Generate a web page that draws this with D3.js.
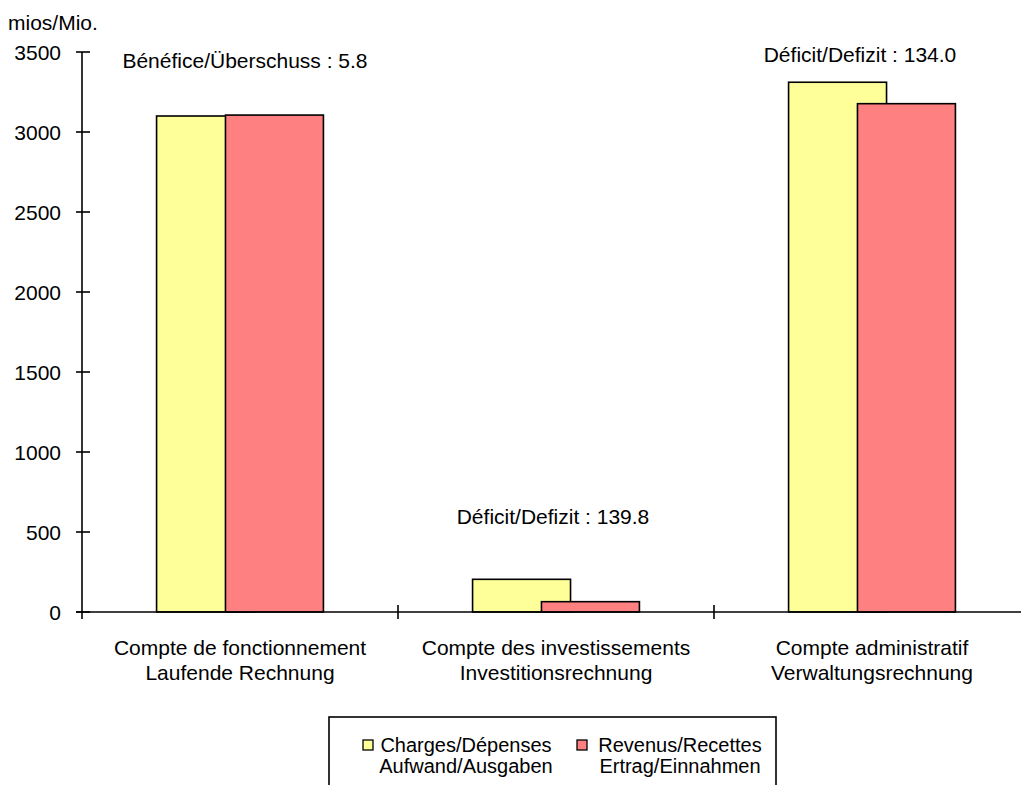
<!DOCTYPE html>
<html>
<head>
<meta charset="utf-8">
<script src="https://cdn.jsdelivr.net/npm/d3@7"></script>
<style>
  html, body { margin: 0; padding: 0; background: #fff; }
  svg { display: block; font-family: "Liberation Sans", Arial, sans-serif; }
</style>
</head>
<body>
<svg id="chart" width="1021" height="785"></svg>
<script>
// Accounts (French / German, two lines each)
const categories = [
  ["Compte de fonctionnement", "Laufende Rechnung"],
  ["Compte des investissements", "Investitionsrechnung"],
  ["Compte administratif", "Verwaltungsrechnung"]
];
// Millions
const charges  = [3100.0, 204.3, 3311.0];
const revenues = [3105.8, 64.5, 3177.0];
const balanceLabels = [
  "Bénéfice/Überschuss : 5.8",
  "Déficit/Defizit : 139.8",
  "Déficit/Defizit : 134.0"
];
const seriesNames = [
  ["Charges/Dépenses", "Aufwand/Ausgaben"],
  ["Revenus/Recettes", "Ertrag/Einnahmen"]
];
const seriesColors = ["#FFFF99", "#FF8080"];
const yTicks = [0, 500, 1000, 1500, 2000, 2500, 3000, 3500];
const unitLabel = "mios/Mio.";

const svg = d3.select("#chart");
const FONT = 21;
const LEGEND_FONT = 20;

const x0 = d3.scaleBand().domain(d3.range(categories.length)).range([82, 1030]).padding(0);
const y = d3.scaleLinear().domain([0, 3500]).range([612, 52]);

const band = x0.bandwidth();
const barW = band * 0.31;
const step = band * 0.218;
const groupOff = (band - (step + barW)) / 2;

// Bars: charges first, revenues overlapping on top
const series = [charges, revenues];
series.forEach((vals, s) => {
  svg.append("g").selectAll("rect").data(vals).join("rect")
    .attr("x", (d, i) => x0(i) + groupOff + s * step)
    .attr("width", barW)
    .attr("y", d => y(d))
    .attr("height", d => y(0) - y(d))
    .attr("fill", seriesColors[s])
    .attr("stroke", "#000")
    .attr("stroke-width", 1.6);
});

// Y axis
const yAxis = svg.append("g");
yAxis.append("line").attr("x1", 82).attr("x2", 82).attr("y1", y(3500)).attr("y2", y(0) + 7)
  .attr("stroke", "#000").attr("stroke-width", 1.6);
yAxis.selectAll("line.tick").data(yTicks).join("line").attr("class", "tick")
  .attr("x1", 76).attr("x2", 90).attr("y1", d => y(d)).attr("y2", d => y(d))
  .attr("stroke", "#000").attr("stroke-width", 1.6);
yAxis.selectAll("text").data(yTicks).join("text")
  .attr("x", 61).attr("y", d => y(d)).attr("dy", "0.36em")
  .attr("text-anchor", "end").attr("font-size", FONT).text(d => d);

// X axis baseline and category separators
const xAxis = svg.append("g");
xAxis.append("line").attr("x1", 76).attr("x2", 1030).attr("y1", y(0)).attr("y2", y(0))
  .attr("stroke", "#000").attr("stroke-width", 1.6);
xAxis.selectAll("line.sep").data(d3.range(1, categories.length)).join("line").attr("class", "sep")
  .attr("x1", d => x0(d)).attr("x2", d => x0(d)).attr("y1", y(0) - 7).attr("y2", y(0) + 7)
  .attr("stroke", "#000").attr("stroke-width", 1.6);
const catText = xAxis.selectAll("text").data(categories).join("text")
  .attr("text-anchor", "middle").attr("font-size", FONT)
  .attr("x", (d, i) => x0(i) + band / 2);
catText.append("tspan").attr("x", (d, i) => x0(i) + band / 2).attr("y", 655).text(d => d[0]);
catText.append("tspan").attr("x", (d, i) => x0(i) + band / 2).attr("y", 680).text(d => d[1]);

// Balance annotations
const annotPos = [[245, 68], [553, 524], [860, 62]];
svg.append("g").selectAll("text").data(balanceLabels).join("text")
  .attr("x", (d, i) => annotPos[i][0]).attr("y", (d, i) => annotPos[i][1])
  .attr("text-anchor", "middle").attr("font-size", FONT).text(d => d);

// Unit
svg.append("text").attr("x", 8).attr("y", 30).attr("font-size", FONT).text(unitLabel);

// Legend
const legend = svg.append("g");
legend.append("rect").attr("x", 329).attr("y", 717).attr("width", 447).attr("height", 90)
  .attr("fill", "#fff").attr("stroke", "#000").attr("stroke-width", 1.6);
const legX = [363, 577];
seriesNames.forEach((names, s) => {
  legend.append("rect").attr("x", legX[s]).attr("y", 740).attr("width", 10).attr("height", 10)
    .attr("fill", seriesColors[s]).attr("stroke", "#000").attr("stroke-width", 1.3);
  const cx = legX[s] + 15 + 88;
  const t = legend.append("text").attr("text-anchor", "middle").attr("font-size", LEGEND_FONT);
  t.append("tspan").attr("x", cx).attr("y", 752).text(names[0]);
  t.append("tspan").attr("x", cx).attr("y", 773).text(names[1]);
});
</script>
</body>
</html>
